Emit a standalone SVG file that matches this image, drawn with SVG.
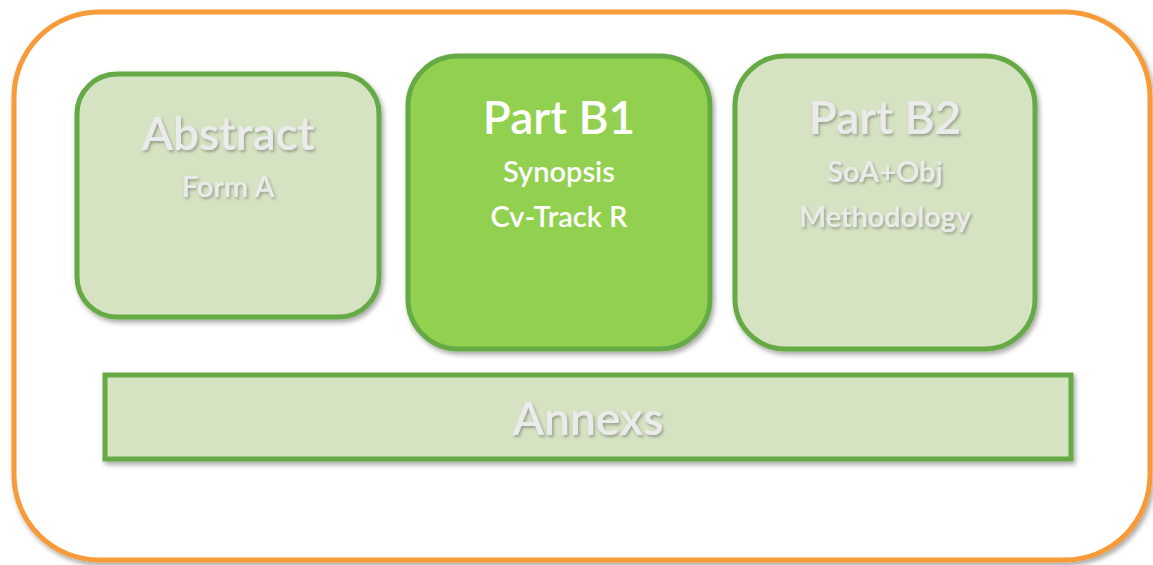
<svg xmlns="http://www.w3.org/2000/svg" width="1153" height="565" viewBox="0 0 1153 565">
<defs>
<filter id="sh" x="-10%" y="-10%" width="130%" height="130%">
<feDropShadow dx="2" dy="3" stdDeviation="2.5" flood-color="#000" flood-opacity="0.35"/>
</filter>
<filter id="tsh" x="-10%" y="-20%" width="130%" height="160%">
<feDropShadow dx="1.5" dy="2" stdDeviation="1.5" flood-color="#000" flood-opacity="0.3"/>
</filter>
</defs>
<style>
.frame{fill:#fff;stroke:#F79A38;stroke-width:5}
.pale{fill:#D5E3C3;stroke:#66AA44;stroke-width:5}
.active{fill:#92D050;stroke:#66AA44;stroke-width:5}
text{font-family:"Lato","Open Sans","Liberation Sans",sans-serif;text-anchor:middle;font-weight:600}
.grey{fill:#EBEBEB;filter:url(#tsh)}
.white{fill:#fff}
.big{font-size:46px}
.sm{font-size:29px}
</style>
<rect class="frame" x="14" y="12" width="1136" height="548" rx="85" filter="url(#sh)"/>
<g id="abstract">
<rect class="pale" x="77" y="74" width="302" height="243" rx="40" filter="url(#sh)"/>
<text class="grey big" x="228" y="150">Abstract</text>
<text class="grey sm" x="228" y="197">Form A</text>
</g>
<g id="partb1">
<rect class="active" x="408" y="56" width="302" height="293" rx="50" filter="url(#sh)"/>
<text class="white big" x="559" y="134">Part B1</text>
<text class="white sm" x="559" y="182">Synopsis</text>
<text class="white sm" x="559" y="227">Cv-Track R</text>
</g>
<g id="partb2">
<rect class="pale" x="735" y="56" width="300" height="293" rx="50" filter="url(#sh)"/>
<text class="grey big" x="885" y="134">Part B2</text>
<text class="grey sm" x="885" y="182">SoA+Obj</text>
<text class="grey sm" x="885" y="227">Methodology</text>
</g>
<g id="annexs">
<rect class="pale" x="105" y="375" width="966" height="84" filter="url(#sh)"/>
<text class="grey big" x="588" y="435">Annexs</text>
</g>
<g id="connectors"></g>
</svg>
